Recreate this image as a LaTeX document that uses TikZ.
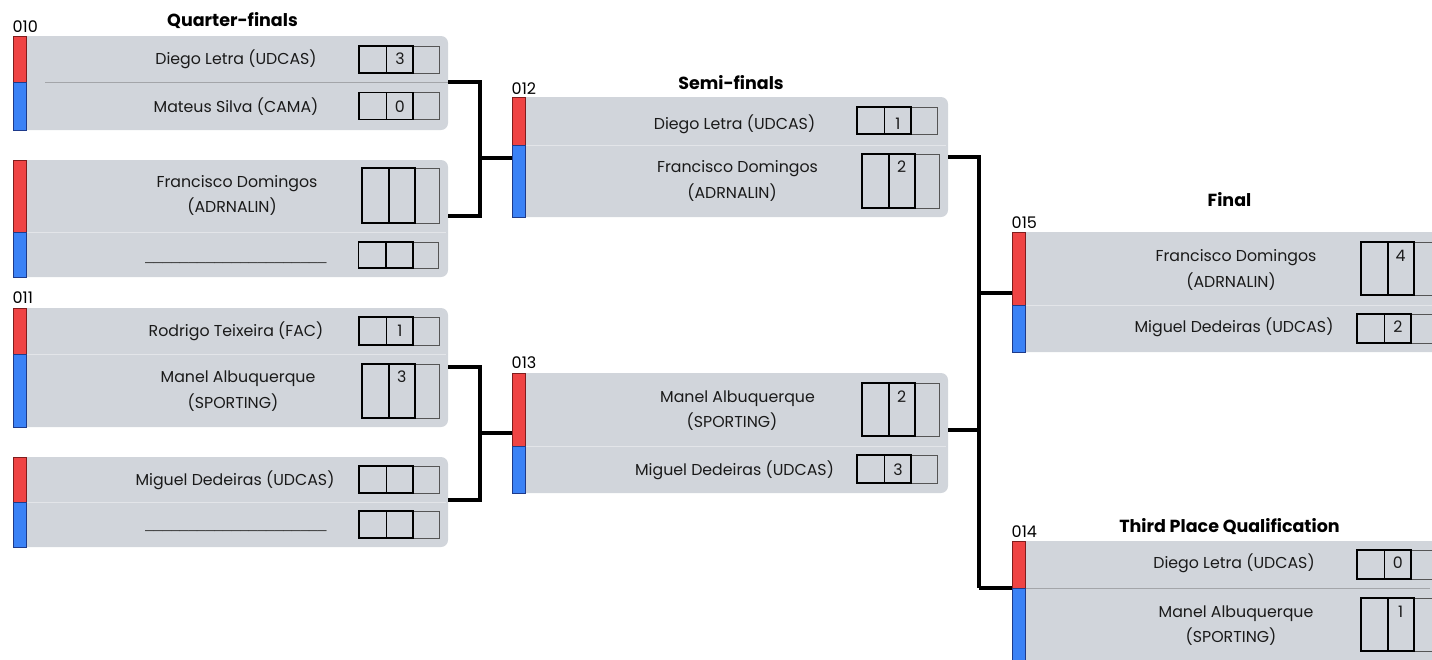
\documentclass[tikz,border=0pt]{standalone}
\usepackage{fontspec}
\setmainfont{Poppins}
\newfontfamily\blankfont{Liberation Sans}
\definecolor{panelgray}{HTML}{D1D5DB}
\definecolor{barred}{HTML}{EF4444}
\definecolor{barredD}{HTML}{7F1D1D}
\definecolor{barblue}{HTML}{3B82F6}
\definecolor{barblueD}{HTML}{1E3A8A}
\definecolor{ink}{HTML}{1A1A1A}
\definecolor{cellgray}{HTML}{555555}
\definecolor{divlight}{HTML}{E3E5E9}
\definecolor{divdark}{HTML}{A3A5A9}
\definecolor{blankgray}{HTML}{3A3A3A}
\tikzset{
 panel/.style={fill=panelgray, rounded corners=7pt, inner sep=0pt, outer sep=0pt, anchor=north west},
 redbar/.style={fill=barred, draw=barredD, line width=0.8pt, inner sep=0pt, outer sep=0pt, anchor=north west, minimum width=13pt},
 bluebar/.style={fill=barblue, draw=barblueD, line width=0.8pt, inner sep=0pt, outer sep=0pt, anchor=north west, minimum width=13pt},
 blackcell/.style={draw=black, line width=1.9pt, inner sep=0pt, outer sep=0pt, anchor=north west},
 graycell/.style={draw=cellgray, line width=1.0pt, inner sep=0pt, outer sep=0pt, anchor=north west},
 nametext/.style={font=\fontsize{15.8}{18}\selectfont, text=ink, anchor=base, inner sep=0pt},
 blanktext/.style={font=\blankfont\fontsize{15.5}{18}\selectfont, text=blankgray, anchor=base, inner sep=0pt},
 numtext/.style={font=\fontsize{15.8}{18}\selectfont, text=ink, anchor=base, inner sep=0pt},
 idtext/.style={font=\fontsize{16}{18}\selectfont, text=black, anchor=base west, inner sep=0pt},
 titletext/.style={font=\fontsize{17.5}{20}\selectfont\bfseries, text=black, anchor=base, inner sep=0pt},
 divider/.style={line width=0.8pt},
 wire/.style={draw=black, line width=3.2pt},
}
\newcommand\matchpanel[6]{% id, x, top, mid, bottom, right
 \pgfmathsetmacro\pw{#6-#2}\pgfmathsetmacro\ph{#5-#3}\pgfmathsetmacro\rh{#4-#3}\pgfmathsetmacro\bh{#5-#4}
 \node[panel, minimum width=\pw pt, minimum height=\ph pt] (#1) at (#2,#3) {};
 \node[redbar, minimum height=\rh pt] (#1-red) at (#2,#3) {};
 \node[bluebar, minimum height=\bh pt] (#1-blue) at (#2,#4) {};
}
\newcommand\scorecells[7]{% id, x, top, height, w1, w2, w3
 \node[graycell, minimum width=#7pt, minimum height=#4pt] (#1-c3) at (#2+#5+#6,#3) {};
 \node[blackcell, minimum width=#5pt, minimum height=#4pt] (#1-c1) at (#2,#3) {};
 \node[blackcell, minimum width=#6pt, minimum height=#4pt] (#1-c2) at (#2+#5,#3) {};
}
\newcommand\singlescore[4]{\scorecells{#1}{#2}{#3}{#4}{27.5}{26.8}{26}}
\newcommand\tallscore[4]{\scorecells{#1}{#2}{#3}{#4}{26.7}{26}{24.3}}
\newcommand\blankline{\_\_\_\_\_\_\_\_\_\_\_\_\_\_\_\_\_\_\_\_\_}
\begin{document}
\begin{tikzpicture}[x=1pt,y=-1pt]
\useasboundingbox (0,0) rectangle (1432,659);

% ---------- Quarter-finals ----------
\node[titletext] (tqf) at (232.5,26.5) {Quarter-finals};

\node[idtext] (id010) at (12.5,32) {010};
\matchpanel{m1}{13}{36}{82}{130}{448}
\draw[divider, draw=divdark] (45,82) -- (448,82);
\node[nametext] (m1-n1) at (236,64) {Diego Letra (UDCAS)};
\node[nametext] (m1-n2) at (236,112) {Mateus Silva (CAMA)};
\singlescore{m1s1}{359}{46}{27}
\singlescore{m1s2}{359}{92.5}{27}
\node[numtext] (m1-v1) at (399.9,64) {3};
\node[numtext] (m1-v2) at (399.9,112) {0};

\matchpanel{m2}{13}{160}{232}{277}{448}
\draw[divider, draw=divlight] (27,232) -- (446,232);
\node[nametext] (m2-n1a) at (237,187) {Francisco Domingos};
\node[nametext] (m2-n1b) at (232,212.5) {(ADRNALIN)};
\node[blanktext] (m2-n2) at (236,260) {\blankline};
\tallscore{m2s1}{362}{168}{55}
\singlescore{m2s2}{358.5}{242}{26}

\node[idtext] (id011) at (12.5,303) {011};
\matchpanel{m3}{13}{308}{354}{427}{448}
\draw[divider, draw=divlight] (27,354) -- (446,354);
\node[nametext] (m3-n1) at (236,336) {Rodrigo Teixeira (FAC)};
\node[nametext] (m3-n2a) at (238,382) {Manel Albuquerque};
\node[nametext] (m3-n2b) at (233,408) {(SPORTING)};
\singlescore{m3s1}{359}{317}{28}
\tallscore{m3s2}{362}{364}{54}
\node[numtext] (m3-v1) at (399.9,336) {1};
\node[numtext] (m3-v2) at (401.7,382) {3};

\matchpanel{m4}{13}{457}{502}{547}{448}
\draw[divider, draw=divlight] (27,502) -- (446,502);
\node[nametext] (m4-n1) at (235,485) {Miguel Dedeiras (UDCAS)};
\node[blanktext] (m4-n2) at (236,528) {\blankline};
\singlescore{m4s1}{359}{466}{27}
\singlescore{m4s2}{359}{511}{27}

% ---------- Semi-finals ----------
\node[titletext] (tsf) at (731,89.3) {Semi-finals};

\node[idtext] (id012) at (511.5,94) {012};
\matchpanel{s1}{512}{97}{145}{217}{948}
\draw[divider, draw=divlight] (526,145) -- (946,145);
\node[nametext] (s1-n1) at (734.5,129) {Diego Letra (UDCAS)};
\node[nametext] (s1-n2a) at (737.5,172) {Francisco Domingos};
\node[nametext] (s1-n2b) at (732,198) {(ADRNALIN)};
\singlescore{s1s1}{857}{107}{27}
\tallscore{s1s2}{862}{154}{54}
\node[numtext] (s1-v1) at (897.9,129) {1};
\node[numtext] (s1-v2) at (901.7,172) {2};

\node[idtext] (id013) at (511.5,368) {013};
\matchpanel{s2}{512}{373}{446}{493}{948}
\draw[divider, draw=divlight] (526,446) -- (946,446);
\node[nametext] (s2-n1a) at (737.5,402) {Manel Albuquerque};
\node[nametext] (s2-n1b) at (732,427) {(SPORTING)};
\node[nametext] (s2-n2) at (734.5,475) {Miguel Dedeiras (UDCAS)};
\tallscore{s2s1}{862}{383}{53}
\singlescore{s2s2}{857}{455}{28}
\node[numtext] (s2-v1) at (901.7,402) {2};
\node[numtext] (s2-v2) at (897.9,475) {3};

% ---------- Final ----------
\node[titletext] (tfi) at (1229.5,206.7) {Final};

\node[idtext] (id015) at (1011.5,228) {015};
\matchpanel{f1}{1012}{232}{305}{352}{1450}
\draw[divider, draw=divlight] (1026,305) -- (1450,305);
\node[nametext] (f1-n1a) at (1236,261) {Francisco Domingos};
\node[nametext] (f1-n1b) at (1231,287) {(ADRNALIN)};
\node[nametext] (f1-n2) at (1234,332) {Miguel Dedeiras (UDCAS)};
\tallscore{f1s1}{1361}{242}{53}
\singlescore{f1s2}{1357}{314}{29}
\node[numtext] (f1-v1) at (1400.7,261) {4};
\node[numtext] (f1-v2) at (1397.9,332) {2};

% ---------- Third place ----------
\node[titletext] (ttp) at (1229.5,532.3) {Third Place Qualification};

\node[idtext] (id014) at (1011.5,537) {014};
\matchpanel{t1}{1012}{541}{588}{690}{1450}
\draw[divider, draw=divdark] (1026,588) -- (1430,588);
\node[nametext] (t1-n1) at (1234,568) {Diego Letra (UDCAS)};
\node[nametext] (t1-n2a) at (1236,617) {Manel Albuquerque};
\node[nametext] (t1-n2b) at (1231,642) {(SPORTING)};
\singlescore{t1s1}{1357}{550}{29}
\tallscore{t1s2}{1361}{598}{53}
\node[numtext] (t1-v1) at (1397.9,568) {0};
\node[numtext] (t1-v2) at (1400.7,617) {1};

% ---------- Connectors ----------
\coordinate (m1o) at (m1.east |- 0,82);
\coordinate (m2o) at (m2.east |- 0,216);
\coordinate (m3o) at (m3.east |- 0,367);
\coordinate (m4o) at (m4.east |- 0,500);
\coordinate (jq1) at (480,158);
\coordinate (jq2) at (480,433);
\coordinate (s1i) at (s1.west |- jq1);
\coordinate (s2i) at (s2.west |- jq2);
\draw[wire] (m1o) -| (jq1);
\draw[wire] (m2o) -| (jq1);
\draw[wire] (jq1) -- (s1i);
\draw[wire] (m3o) -| (jq2);
\draw[wire] (m4o) -| (jq2);
\draw[wire] (jq2) -- (s2i);

\coordinate (s1o) at (s1.east |- 0,157);
\coordinate (s2o) at (s2.east |- 0,430);
\coordinate (jf) at (979,293);
\coordinate (jt) at (979,588);
\coordinate (f1i) at (f1.west |- jf);
\coordinate (t1i) at (t1.west |- jt);
\draw[wire] (s1o) -| (jt);
\draw[wire] (s2o) -| (jf);
\draw[wire] (jf) -- (f1i);
\draw[wire] (jt) -- (t1i);
\end{tikzpicture}
\end{document}
